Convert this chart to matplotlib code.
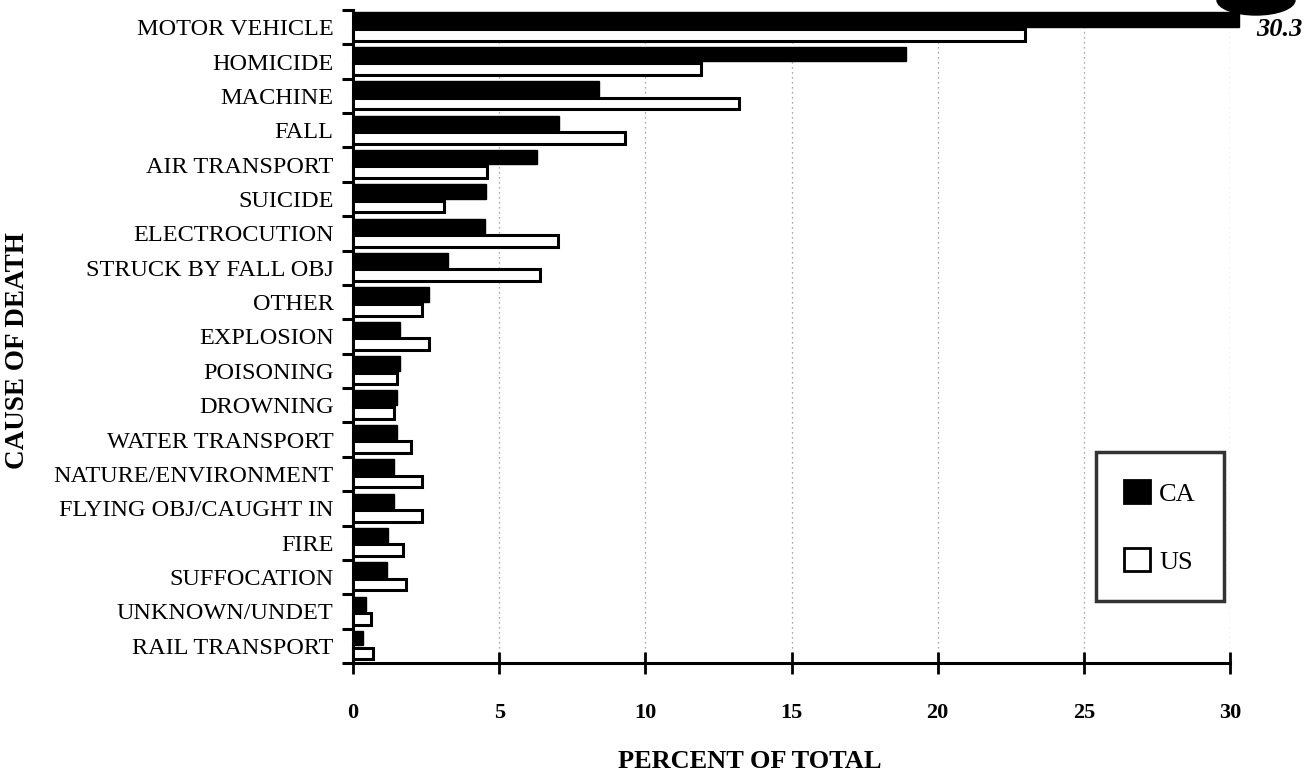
import matplotlib
matplotlib.use("Agg")
import matplotlib.pyplot as plt
from matplotlib.patches import Patch, Ellipse
import numpy as np

categories = ["MOTOR VEHICLE", "HOMICIDE", "MACHINE", "FALL", "AIR TRANSPORT",
              "SUICIDE", "ELECTROCUTION", "STRUCK BY FALL OBJ", "OTHER", "EXPLOSION",
              "POISONING", "DROWNING", "WATER TRANSPORT", "NATURE/ENVIRONMENT",
              "FLYING OBJ/CAUGHT IN", "FIRE", "SUFFOCATION", "UNKNOWN/UNDET",
              "RAIL TRANSPORT"]
ca_values = [30.3, 18.9, 8.4, 7.05, 6.3, 4.55, 4.5, 3.25, 2.6, 1.6,
             1.6, 1.5, 1.5, 1.4, 1.4, 1.2, 1.15, 0.45, 0.35]
us_values = [23.0, 11.9, 13.2, 9.3, 4.6, 3.1, 7.0, 6.4, 2.35, 2.6,
             1.5, 1.4, 2.0, 2.35, 2.35, 1.7, 1.8, 0.6, 0.7]
x_ticks = [0, 5, 10, 15, 20, 25, 30]
series_names = ["CA", "US"]
callout_text = "30.3"

plt.rcParams['font.family'] = ['Liberation Serif', 'DejaVu Serif']

fig = plt.figure(figsize=(13.06, 7.73), dpi=100)
ax = fig.add_axes([353/1306, 1-663/773, (1230-353)/1306, (663-10)/773])

y = np.arange(len(categories))
ax.barh(y - 0.22, ca_values, height=0.42, color='black', edgecolor='black',
        linewidth=1, clip_on=False, zorder=3)
ax.barh(y + 0.22, us_values, height=0.34, color='white', edgecolor='black',
        linewidth=2.2, clip_on=False, zorder=3)

ax.set_xlim(0, 30)
ax.set_ylim(len(categories) - 0.5, -0.5)

# gridlines
for xv in x_ticks[1:]:
    ax.axvline(xv, color='#8a8a8a', linestyle=(0, (1, 3)), linewidth=0.9, zorder=1)

for s in ['top', 'right']:
    ax.spines[s].set_visible(False)
ax.spines['left'].set_linewidth(2.2)
ax.spines['bottom'].set_linewidth(2.2)

ax.set_xticks(x_ticks)
ax.set_xticklabels([str(t) for t in x_ticks], fontsize=16, fontweight='bold')
ax.tick_params(axis='x', direction='inout', length=16, width=2, pad=21)

ax.set_yticks(y)
ax.set_yticklabels(categories, fontsize=17.5)
ax.tick_params(axis='y', which='major', length=0, pad=14)
ax.set_yticks(np.arange(len(categories) + 1) - 0.5, minor=True)
ax.tick_params(axis='y', which='minor', direction='out', length=8, width=2.2)

fig.text(750/1306, 1-762/773, "PERCENT OF TOTAL", fontsize=19, fontweight='bold',
         ha='center', va='center')
fig.text(18/1306, 1-351/773, "CAUSE OF DEATH", rotation=90, fontsize=19.5,
         fontweight='bold', ha='center', va='center')

handles = [Patch(facecolor='black', edgecolor='black', linewidth=2),
           Patch(facecolor='white', edgecolor='black', linewidth=2)]
leg = ax.legend(handles, series_names, loc='upper left',
                bbox_to_anchor=(1096/1306, 1-452/773), bbox_transform=fig.transFigure,
                fontsize=19, frameon=True, fancybox=False, handlelength=1.0,
                handleheight=1.0, labelspacing=1.6, borderpad=1.05,
                handletextpad=0.35, borderaxespad=0)
leg.get_frame().set_edgecolor('black')
leg.get_frame().set_linewidth(2.5)

# callout
fig.text(1279/1306, 1-30/773, callout_text, fontsize=19, fontweight='bold',
         fontstyle='italic', ha='center', va='center')
fig.patches.append(Ellipse((1256/1306, 1-0/773), 78/1306, 30/773,
                           transform=fig.transFigure, facecolor='black',
                           edgecolor='black'))

fig.savefig("out.png", dpi=100)
